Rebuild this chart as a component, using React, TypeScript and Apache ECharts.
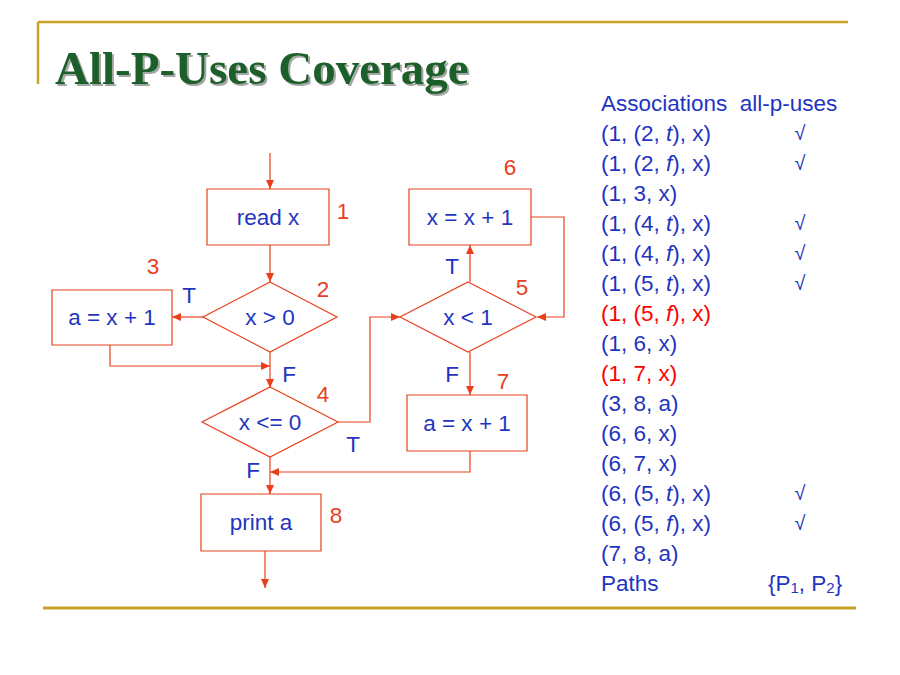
import { useEffect, useRef } from 'react'
import * as echarts from 'echarts'

const associations = [
  '(1, (2, {i|t}), x)', '(1, (2, {i|f}), x)', '(1, 3, x)', '(1, (4, {i|t}), x)',
  '(1, (4, {i|f}), x)', '(1, (5, {i|t}), x)', '(1, (5, {i|f}), x)', '(1, 6, x)',
  '(1, 7, x)', '(3, 8, a)', '(6, 6, x)', '(6, 7, x)', '(6, (5, {i|t}), x)',
  '(6, (5, {i|f}), x)', '(7, 8, a)',
]
const covered = [true, true, false, true, true, true, false, false, false, false, false, false, true, true, false]
const redRows = [6, 8]

const RED = '#e8401c'
const BLUE = '#1f35c0'
const GOLD = '#c9a227'
const FONT = 'Arial, "Liberation Sans", sans-serif'
const FS = 22.5

function arrow(pts: number[][]) {
  const [x1, y1] = pts[pts.length - 2]
  const [x2, y2] = pts[pts.length - 1]
  const a = Math.atan2(y2 - y1, x2 - x1)
  const L = 9, W = 4
  const bx = x2 - L * Math.cos(a), by = y2 - L * Math.sin(a)
  return [
    { type: 'polyline', shape: { points: pts }, style: { stroke: RED, lineWidth: 1.2, fill: null } },
    {
      type: 'polygon',
      shape: { points: [[x2, y2], [bx - W * Math.sin(a), by + W * Math.cos(a)], [bx + W * Math.sin(a), by - W * Math.cos(a)]] },
      style: { fill: RED },
    },
  ]
}

function box(x: number, y: number, w: number, h: number, label: string) {
  return [
    { type: 'rect', shape: { x, y, width: w, height: h }, style: { stroke: RED, lineWidth: 1.2, fill: '#fff' } },
    { type: 'text', x: x + w / 2, y: y + h / 2, style: { text: label, fill: BLUE, font: `${FS}px ${FONT}`, align: 'center', verticalAlign: 'middle' } },
  ]
}

function diamond(cx: number, cy: number, hw: number, hh: number, label: string) {
  return [
    { type: 'polygon', shape: { points: [[cx, cy - hh], [cx + hw, cy], [cx, cy + hh], [cx - hw, cy]] }, style: { stroke: RED, lineWidth: 1.2, fill: '#fff' } },
    { type: 'text', x: cx, y: cy, style: { text: label, fill: BLUE, font: `${FS}px ${FONT}`, align: 'center', verticalAlign: 'middle' } },
  ]
}

function label(x: number, y: number, text: string, color: string) {
  return { type: 'text', x, y, style: { text, fill: color, font: `${FS}px ${FONT}`, align: 'center', verticalAlign: 'middle' } }
}

export default function App() {
  const chartRef = useRef<HTMLDivElement>(null)

  useEffect(() => {
    document.body.style.margin = '0'
    if (!chartRef.current) return
    const chart = echarts.init(chartRef.current, null, { renderer: 'svg' })

    const rows: any[] = []
    rows.push({ type: 'text', x: 601, y: 103, style: { text: 'Associations  all-p-uses', fill: BLUE, font: `${FS}px ${FONT}`, verticalAlign: 'middle' } })
    associations.forEach((a, i) => {
      const y = 133 + i * 30
      const color = redRows.includes(i) ? 'red' : BLUE
      rows.push({
        type: 'text', x: 601, y,
        style: { text: a, fill: color, font: `${FS}px ${FONT}`, verticalAlign: 'middle', rich: { i: { fontStyle: 'italic', fill: color, fontSize: FS, fontFamily: FONT } } },
      })
      if (covered[i]) rows.push({ type: 'text', x: 800, y, style: { text: '√', fill: BLUE, font: `20px ${FONT}`, align: 'center', verticalAlign: 'middle' } })
    })
    rows.push({ type: 'text', x: 601, y: 583, style: { text: 'Paths', fill: BLUE, font: `${FS}px ${FONT}`, verticalAlign: 'middle' } })
    rows.push({
      type: 'text', x: 768, y: 583,
      style: {
        text: '{{s|1}, P{s|2}}', fill: BLUE, font: `${FS}px ${FONT}`, verticalAlign: 'middle',
        rich: { s: { fontSize: 15, fill: BLUE, fontFamily: FONT, verticalAlign: 'bottom', padding: [9, 0, 0, 0] } },
      },
    })
    // first "P" before subscript 1
    rows[rows.length - 1].style.text = '{P{s|1}, P{s|2}}'

    const elements: any[] = [
      { type: 'rect', shape: { x: 0, y: 0, width: 900, height: 675 }, style: { fill: '#fff' } },
      { type: 'line', shape: { x1: 38, y1: 22, x2: 848, y2: 22 }, style: { stroke: GOLD, lineWidth: 2.5 } },
      { type: 'line', shape: { x1: 38, y1: 22, x2: 38, y2: 84 }, style: { stroke: GOLD, lineWidth: 2.5 } },
      { type: 'line', shape: { x1: 43, y1: 608, x2: 856, y2: 608 }, style: { stroke: GOLD, lineWidth: 3 } },
      {
        type: 'text', x: 55, y: 68,
        style: {
          text: 'All-P-Uses Coverage', fill: '#1f5f2a', font: `bold 47px "Times New Roman", "Liberation Serif", serif`,
          verticalAlign: 'middle', textShadowColor: 'rgba(0,0,0,0.35)', textShadowOffsetX: 2, textShadowOffsetY: 2, textShadowBlur: 1,
        },
      },
      ...arrow([[270, 153], [270, 189]]),
      ...arrow([[270, 245], [270, 282]]),
      ...arrow([[203, 317], [172, 317]]),
      ...arrow([[270, 352], [270, 388]]),
      ...arrow([[110, 345], [110, 366], [270, 366]]),
      ...arrow([[338, 422], [370, 422], [370, 317], [400, 317]]),
      ...arrow([[270, 457], [270, 494]]),
      ...arrow([[470, 451], [470, 472], [270, 472]]),
      ...arrow([[470, 282], [470, 245]]),
      ...arrow([[531, 217], [564, 217], [564, 317], [537, 317]]),
      ...arrow([[470, 352], [470, 395]]),
      ...arrow([[265, 551], [265, 588]]),
      ...box(207, 189, 122, 56, 'read x'),
      ...box(52, 290, 120, 55, 'a = x + 1'),
      ...box(201, 494, 120, 57, 'print a'),
      ...box(409, 189, 122, 56, 'x = x + 1'),
      ...box(407, 395, 120, 56, 'a = x + 1'),
      ...diamond(270, 317, 67, 35, 'x > 0'),
      ...diamond(270, 422, 68, 35, 'x <= 0'),
      ...diamond(468, 317, 68, 35, 'x < 1'),
      label(343, 211, '1', RED), label(323, 289, '2', RED), label(153, 266, '3', RED),
      label(323, 394, '4', RED), label(522, 287, '5', RED), label(510, 167, '6', RED),
      label(503, 381, '7', RED), label(336, 515, '8', RED),
      label(189, 295, 'T', BLUE), label(289, 374, 'F', BLUE), label(353, 444, 'T', BLUE),
      label(253, 470, 'F', BLUE), label(452, 266, 'T', BLUE), label(452, 374, 'F', BLUE),
      ...rows,
    ]

    chart.setOption({ animation: false, graphic: { elements } })
    return () => chart.dispose()
  }, [])

  return <div ref={chartRef} style={{ width: 900, height: 675 }} />
}
